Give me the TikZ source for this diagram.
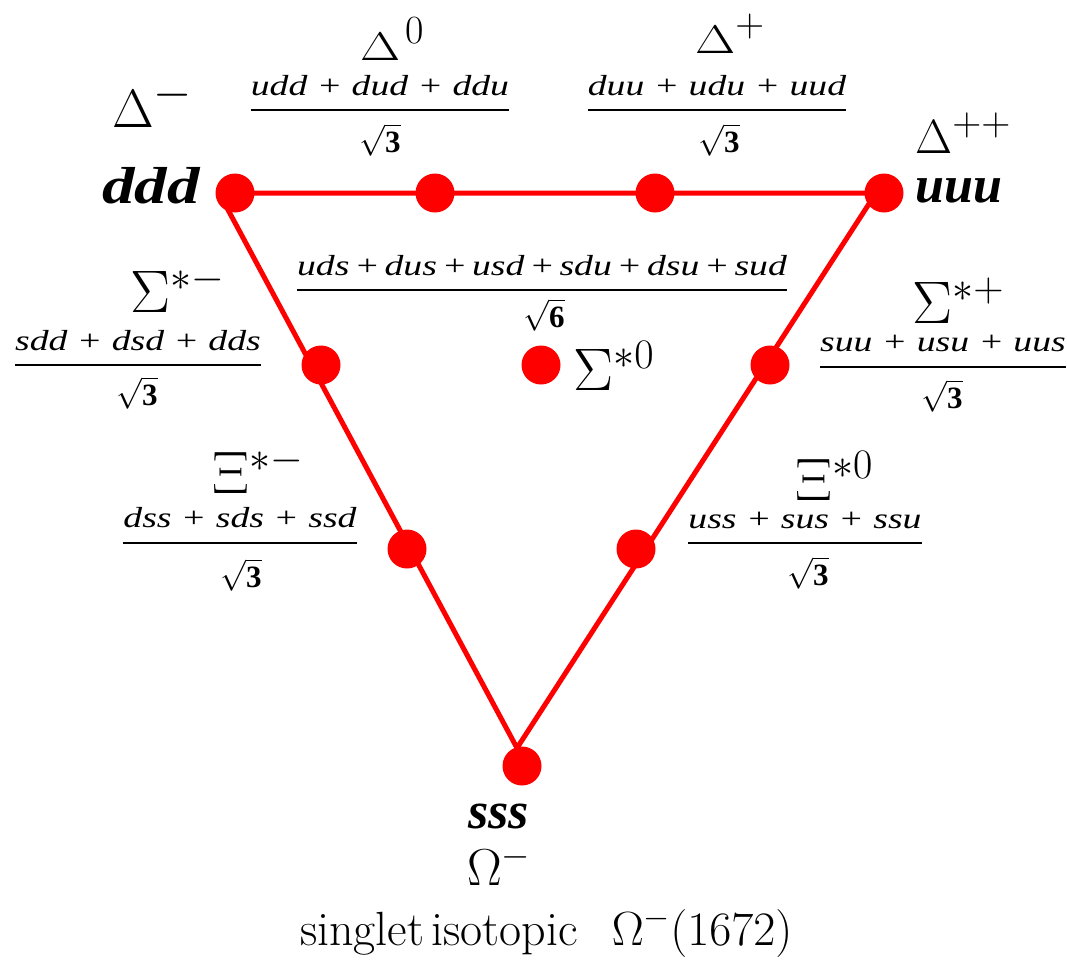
\RequirePackage{fix-cm}
\documentclass[tikz,border=0pt]{standalone}
\usepackage{amsmath}
\usepackage{graphicx}
\usepackage{fontspec}
\newfontfamily\tms[FakeStretch=1.3]{Liberation Serif}
\newfontfamily\tmsw[FakeStretch=1.25]{Liberation Serif}
\newfontfamily\tmsb{Liberation Serif}
\usetikzlibrary{calc}
\newcommand\myroot[1]{$\sqrt{\text{\tmsb\bfseries #1}}$}
\newcommand\bigsup[2]{\scalebox{#1}{$\scriptstyle #2$}}
\newcommand\wideD{\scalebox{1.3}[1]{$\Delta$}}
\tikzset{
  edge/.style={draw=red, line width=5pt, line join=round},
  dot/.style={circle, fill=red, inner sep=0pt, minimum size=39pt},
  lab/.style={inner sep=0pt, anchor=base west},
  num/.style={inner sep=0pt, anchor=base, font=\tms\itshape\fontsize{29}{29}\selectfont},
  den/.style={inner sep=0pt, anchor=base, font=\fontsize{31}{31}\selectfont},
  bar/.style={line width=1.8pt},
  quark/.style={inner sep=0pt, anchor=base west, font=\tmsb\bfseries\itshape\fontsize{52}{52}\selectfont},
}
\begin{document}
\begin{tikzpicture}[x=1pt,y=-1pt]
\useasboundingbox (0,0) rectangle (1067,959);
% triangle
\coordinate (L) at (219,193);
\coordinate (R) at (876,193);
\coordinate (B) at (517,748);
\draw[edge] (L) -- (R) -- (B) -- cycle;
% dots
\node[dot] (ddd) at (235,193) {};
\node[dot] (udd) at (435,193) {};
\node[dot] (uud) at (655,193) {};
\node[dot] (uuu) at (884,193) {};
\node[dot] (sdd) at (321,365) {};
\node[dot] (uds) at (541,365) {};
\node[dot] (suu) at (770,365) {};
\node[dot] (dss) at (407,549) {};
\node[dot] (uss) at (636,549) {};
\node[dot] (sss) at (522,766) {};
% quark labels
\node[quark, anchor=base east, font=\tmsw\bfseries\itshape\fontsize{52}{52}\selectfont] (qd) at (200,203) {ddd};
\node[quark] (qu) at (915,202) {uuu};
\node[quark] (qs) at (468,828) {sss};
% particle labels
\node[lab, font=\fontsize{54}{54}\selectfont] (Dm) at (112,127) {$\Delta^{\bigsup{1.3}{-}}$};
\node[lab, font=\fontsize{40}{40}\selectfont] (D0) at (360,60) {${\wideD}^{\,\textstyle 0}$};
\node[lab, font=\fontsize{40}{40}\selectfont] (Dp) at (695,53) {${\wideD}^{\textstyle +}$};
\node[lab, font=\fontsize{48}{48}\selectfont] (Dpp) at (915,153) {$\Delta^{\bigsup{1.2}{++}}$};
\node[lab, font=\fontsize{60}{60}\selectfont] (Sm) at (130,312) {$\Sigma^{*-}$};
\node[lab, font=\fontsize{60}{60}\selectfont] (S0) at (573,390) {$\Sigma^{*0}$};
\node[lab, font=\fontsize{60}{60}\selectfont] (Sp) at (912,323) {$\Sigma^{*+}$};
\node[lab, font=\fontsize{60}{60}\selectfont] (Xm) at (212,493) {$\Xi^{*-}$};
\node[lab, font=\fontsize{60}{60}\selectfont] (X0) at (795,500) {$\Xi^{*0}$};
\node[lab, font=\fontsize{52}{52}\selectfont] (Om) at (467,885) {$\Omega^{-}$};
% fractions
\node[num] (n1) at (380,95) {udd + dud + ddu};
\node[den] (d1) at (380,152) {\myroot{3}};
\draw[bar] ([yshift=-15pt]n1.base west) -- ([yshift=-15pt]n1.base east);
\node[num] (n2) at (717,95) {duu + udu + uud};
\node[den] (d2) at (719,152) {\myroot{3}};
\draw[bar] ([yshift=-15pt]n2.base west) -- ([yshift=-15pt]n2.base east);
\node[num] (n3) at (138,350) {sdd + dsd + dds};
\node[den] (d3) at (137,405) {\myroot{3}};
\draw[bar] ([yshift=-15pt]n3.base west) -- ([yshift=-15pt]n3.base east);
\node[num] (n4) at (542,275) {uds\,+\,dus\,+\,usd\,+\,sdu\,+\,dsu\,+\,sud};
\node[den] (d4) at (544,327) {\myroot{6}};
\draw[bar] ([yshift=-15pt]n4.base west) -- ([yshift=-15pt]n4.base east);
\node[num] (n5) at (943,351) {suu + usu + uus};
\node[den] (d5) at (942,408) {\myroot{3}};
\draw[bar] ([yshift=-16pt]n5.base west) -- ([yshift=-16pt]n5.base east);
\node[num] (n6) at (240,527) {dss + sds + ssd};
\node[den] (d6) at (241,587) {\myroot{3}};
\draw[bar] ([yshift=-16pt]n6.base west) -- ([yshift=-16pt]n6.base east);
\node[num] (n7) at (805,528) {uss + sus + ssu};
\node[den] (d7) at (808,585) {\myroot{3}};
\draw[bar] ([yshift=-15pt]n7.base west) -- ([yshift=-15pt]n7.base east);
% caption
\node[lab, font=\fontsize{48}{48}\selectfont] (cap) at (300,945) {singlet\hspace{7pt}isotopic\hspace{34pt}$\Omega^{-}(1672)$};
\end{tikzpicture}
\end{document}
